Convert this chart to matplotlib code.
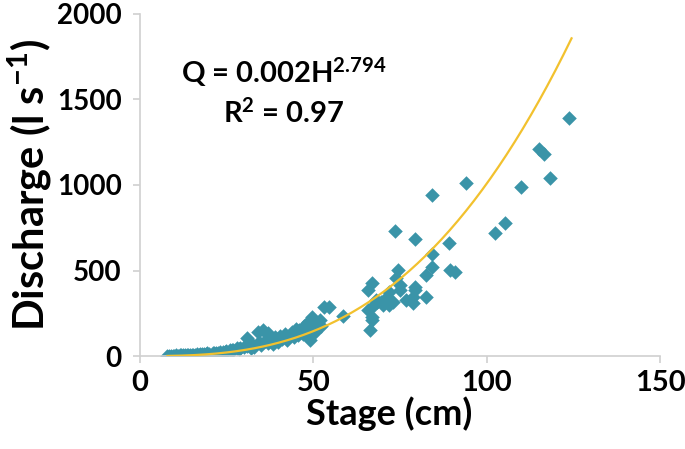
import matplotlib
matplotlib.use('Agg')
import matplotlib.pyplot as plt
import numpy as np

# stage (cm) and discharge (l/s)
stage_low = [8, 8.5, 9, 9.5, 10, 10.5, 11, 11.5, 12, 12.5, 13, 13.5, 14, 14.5, 15, 15.5,
             16, 16.5, 17, 17.5, 18, 18.5, 19, 19.5, 20, 21, 21.5, 22, 22.5, 23, 24,
             24.5, 25, 26, 26.5, 27, 28, 28.5, 29, 30]
q_low = [1, 2, 1, 3, 2, 4, 3, 5, 4, 6, 5, 7, 6, 8, 7, 9, 8, 10, 9, 11, 10, 13, 12, 15,
         14, 17, 16, 20, 19, 22, 25, 24, 30, 33, 38, 36, 45, 40, 50, 55]

stage_mid = [30.8, 31, 32, 32.5, 33, 34, 34.5, 35, 35.4, 36, 36.9, 37, 38, 38.5, 39, 40,
             40.5, 41, 42, 42.5, 43, 44, 44.5, 45, 45.5, 46, 47, 47.5, 48, 48.5, 49, 49.6,
             50, 50.5, 51, 51.9, 52.4, 53, 54.5, 58.5]
q_mid = [105, 60, 48, 70, 55, 140, 80, 65, 152, 90, 135, 75, 95, 70, 110, 85, 120, 100,
         130, 95, 115, 140, 110, 160, 125, 150, 130, 175, 152, 200, 94, 228, 180, 140,
         190, 211, 175, 287, 287, 234]

stage_high = [65.7, 66.9, 65.7, 66.9, 67.1, 66.3, 67.5, 68, 68.3, 69.7, 70, 71.2, 72, 72,
              72.9, 73.5, 74, 74.4, 74.9, 74.9, 76.9, 78.7, 78.7, 79.3, 79.3, 79.3, 82.4,
              82.4, 84.4, 84.4, 84.4, 89.3, 89.5, 91, 94.2, 102.3, 105.2, 110, 115,
              116.5, 118.2, 123.9]
q_high = [386, 427, 269, 228, 211, 152, 300, 330, 316, 316, 298, 345, 374, 298, 316, 731,
          456, 503, 386, 415, 328, 345, 310, 404, 684, 386, 474, 345, 942, 597, 521, 661,
          505, 490, 1012, 720, 778, 989, 1210, 1180, 1041, 1392]

stage = stage_low + stage_mid + stage_high
discharge = q_low + q_mid + q_high

# power-law rating curve drawn on the chart
fit_a = 0.0026
fit_b = 2.794

plt.rcParams['font.family'] = ['Lato', 'DejaVu Sans']
plt.rcParams['font.weight'] = 'bold'
plt.rcParams['mathtext.fontset'] = 'custom'
plt.rcParams['mathtext.rm'] = 'Lato:bold'
plt.rcParams['mathtext.bf'] = 'Lato:bold'
plt.rcParams['mathtext.default'] = 'bf'

fig = plt.figure(figsize=(6.85, 4.49), dpi=100)
ax = fig.add_axes([0.204, 0.207, 0.7595, 0.762])

ax.scatter(stage, discharge, marker='D', s=55, color='#3a94a8', linewidths=0, zorder=2)

h = np.linspace(8, 124.5, 200)
ax.plot(h, fit_a * h ** fit_b, color='#f2c12e', lw=1.6, zorder=3)

ax.set_xlim(0, 150)
ax.set_ylim(0, 2000)
ax.set_xticks([0, 50, 100, 150])
ax.set_yticks([0, 500, 1000, 1500, 2000])

for s in ['top', 'right']:
    ax.spines[s].set_visible(False)
for s in ['left', 'bottom']:
    ax.spines[s].set_color('#d0d0d0')
    ax.spines[s].set_linewidth(1.2)
ax.tick_params(axis='both', color='#d0d0d0', length=5, width=1.2)
ax.tick_params(axis='y', labelsize=20, pad=8)
ax.tick_params(axis='x', labelsize=21, pad=5)

ax.set_xlabel('Stage (cm)', fontsize=26, fontweight='bold', labelpad=0)
ax.xaxis.label.set_x(0.48)
ax.set_ylabel('Discharge (l s$^{-1}$)', fontsize=30, fontweight='bold', labelpad=2)

ax.text(41.5, 1596, 'Q = 0.002H$^{2.794}$', fontsize=21, fontweight='bold', ha='center', va='baseline')
ax.text(41.5, 1363, 'R$^{2}$ = 0.97', fontsize=21, fontweight='bold', ha='center', va='baseline')

fig.savefig('out.png', dpi=100)
